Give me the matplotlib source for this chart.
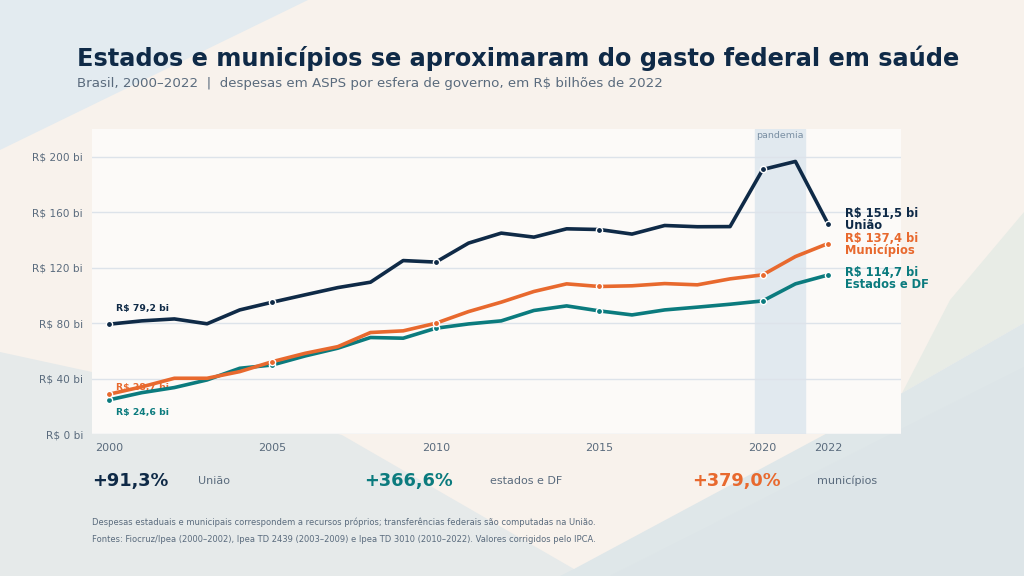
import numpy as np
import matplotlib
matplotlib.use("Agg")
import matplotlib.pyplot as plt
from matplotlib.patches import Polygon
import matplotlib.transforms as mtransforms

# dados (R$ bilhoes de 2022)
anos = list(range(2000, 2023))
uniao = [79.2, 81.6, 83.0, 79.5, 89.5, 95.1, 100.4, 105.6, 109.5, 125.1, 124.0,
         137.7, 144.9, 142.0, 148.0, 147.5, 144.2, 150.4, 149.5, 149.6, 190.8,
         196.6, 151.5]
municipios = [28.7, 34.0, 40.2, 40.2, 45.0, 52.2, 58.2, 63.0, 73.2, 74.4, 79.9,
              88.3, 95.1, 102.8, 108.3, 106.4, 106.9, 108.5, 107.6, 111.9, 114.8,
              128.0, 137.4]
estados = [24.6, 29.8, 33.5, 39.0, 47.4, 49.8, 56.3, 61.9, 69.6, 69.1, 76.3,
           79.4, 81.6, 89.1, 92.4, 88.8, 85.9, 89.5, 91.5, 93.6, 96.0,
           108.3, 114.7]
variacao = ["+91,3%", "+366,6%", "+379,0%"]
nomes_var = ["União", "estados e DF", "municípios"]

c_uniao = "#0f2a47"
c_mun = "#e8692e"
c_est = "#0b7b7e"
c_txt = "#5a6b7d"

W, H = 1024, 576
fig = plt.figure(figsize=(10.24, 5.76), dpi=100)
fig.patch.set_facecolor("#f8f2ec")


def fpoly(pts, color):
    p = Polygon([(x / W, 1 - y / H) for x, y in pts], closed=True,
                transform=fig.transFigure, facecolor=color, edgecolor="none",
                zorder=-10)
    fig.patches.append(p)


# formas do fundo
fpoly([(0, 0), (308, 0), (0, 150)], "#e3ebf0")
fpoly([(0, 352), (92, 372), (342, 435), (574, 569), (574, 576), (0, 576)], "#e6eaea")
fpoly([(902, 393), (950, 300), (1024, 212), (1024, 323)], "#e8ece6")
fpoly([(560, 576), (574, 569), (902, 393), (1024, 323), (1024, 576)], "#dfe7e9")
fpoly([(610, 576), (1024, 367), (1024, 576)], "#dde5e8")

ax = fig.add_axes([92 / W, 1 - 434 / H, (901 - 92) / W, (434 - 129) / H])
ax.set_facecolor("#fcfaf8")
for s in ax.spines.values():
    s.set_visible(False)

ax.set_xlim(1999.48, 2024.23)
ax.set_ylim(0, 220)
ax.set_yticks(range(0, 201, 40))
ax.set_yticklabels([f"R$ {v} bi" for v in range(0, 201, 40)])
ax.set_xticks([2000, 2005, 2010, 2015, 2020, 2022])
ax.tick_params(length=0, colors=c_txt, labelsize=8, pad=6.5)
ax.tick_params(axis="y", labelsize=7.6)
ax.grid(axis="y", color="#dde3ea", linewidth=1)
ax.set_axisbelow(True)

ax.axvspan(2019.75, 2021.3, color="#e1e9ef", zorder=0.5)
ax.text(2020.52, 0.995, "pandemia", transform=mtransforms.blended_transform_factory(ax.transData, ax.transAxes),
        ha="center", va="top", fontsize=6.8, color="#7a8fa3")

marcas = [0, 5, 10, 15, 20, 22]
for serie, cor in [(estados, c_est), (municipios, c_mun), (uniao, c_uniao)]:
    ax.plot(anos, serie, color=cor, lw=2.6, solid_joinstyle="round", zorder=3,
            marker="o", markevery=marcas, markersize=4.5,
            markerfacecolor=cor, markeredgecolor="white", markeredgewidth=1)

# rotulos iniciais
ax.text(2000.2, uniao[0] + 8, "R$ 79,2 bi", color=c_uniao, fontsize=6.7,
        fontweight="bold", va="bottom")
ax.text(2000.2, municipios[0] + 5, "R$ 28,7 bi", color=c_mun, fontsize=6.7,
        fontweight="bold", va="center", zorder=2)
ax.text(2000.2, estados[0] - 9, "R$ 24,6 bi", color=c_est, fontsize=6.7,
        fontweight="bold", va="center")

# rotulos finais
finais = [(uniao[-1] + 3, "R$ 151,5 bi\nUnião", c_uniao),
          (municipios[-1] - 1, "R$ 137,4 bi\nMunicípios", c_mun),
          (estados[-1] - 2.5, "R$ 114,7 bi\nEstados e DF", c_est)]
for y, txt, cor in finais:
    ax.text(2022.52, y, txt, color=cor, fontsize=8.3, fontweight="bold",
            va="center", linespacing=0.9)

# titulo
fig.text(77 / W, 1 - 58 / H, "Estados e municípios se aproximaram do gasto federal em saúde",
         fontsize=17.3, fontweight="bold", color=c_uniao, va="center")
fig.text(77 / W, 1 - 83 / H,
         "Brasil, 2000–2022  |  despesas em ASPS por esfera de governo, em R$ bilhões de 2022",
         fontsize=9.65, color=c_txt, va="center")

# variacoes
xs_val = [92, 364, 692]
xs_nome = [198, 490, 817]
cores = [c_uniao, c_est, c_mun]
for xv, xn, v, n, cor in zip(xs_val, xs_nome, variacao, nomes_var, cores):
    fig.text(xv / W, 1 - 481 / H, v, fontsize=12.8, fontweight="bold", color=cor, va="center")
    fig.text(xn / W, 1 - 481 / H, n, fontsize=8, color=c_txt, va="center")

fig.text(92 / W, 1 - 522 / H,
         "Despesas estaduais e municipais correspondem a recursos próprios; transferências federais são computadas na União.",
         fontsize=6.05, color=c_txt, va="center")
fig.text(92 / W, 1 - 540 / H,
         "Fontes: Fiocruz/Ipea (2000–2002), Ipea TD 2439 (2003–2009) e Ipea TD 3010 (2010–2022). Valores corrigidos pelo IPCA.",
         fontsize=6.05, color=c_txt, va="center")

fig.savefig("out.png", dpi=100, facecolor=fig.get_facecolor())
